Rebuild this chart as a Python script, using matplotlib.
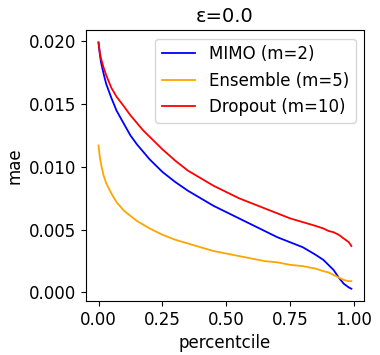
import matplotlib
matplotlib.use("Agg")
import matplotlib.pyplot as plt

percentile = [0.0, 0.005, 0.01, 0.02, 0.03, 0.05, 0.07, 0.10, 0.125, 0.15, 0.175, 0.20,
              0.25, 0.30, 0.35, 0.40, 0.45, 0.50, 0.55, 0.60, 0.65, 0.70, 0.75, 0.80,
              0.85, 0.88, 0.90, 0.92, 0.94, 0.96, 0.98, 0.99]
mimo = [0.0199, 0.0190, 0.0183, 0.0174, 0.0166, 0.0155, 0.0145, 0.0134, 0.0125, 0.0118,
        0.0112, 0.0106, 0.0096, 0.0088, 0.0081, 0.0075, 0.0069, 0.0064, 0.0059, 0.0054,
        0.0049, 0.0044, 0.0040, 0.0036, 0.0030, 0.0026, 0.0022, 0.0018, 0.0012, 0.0007,
        0.0004, 0.0003]
ensemble = [0.0117, 0.0108, 0.0102, 0.0093, 0.0087, 0.0079, 0.0072, 0.0065, 0.0061, 0.0057,
            0.0054, 0.0051, 0.0046, 0.0042, 0.0039, 0.0036, 0.0033, 0.0031, 0.0029, 0.0027,
            0.0025, 0.0024, 0.0022, 0.0021, 0.0019, 0.0017, 0.0016, 0.0014, 0.0012, 0.0010,
            0.0009, 0.0009]
dropout = [0.0199, 0.0191, 0.0186, 0.0179, 0.0173, 0.0163, 0.0156, 0.0148, 0.0141, 0.0135,
           0.0129, 0.0124, 0.0114, 0.0105, 0.0097, 0.0091, 0.0085, 0.0080, 0.0075, 0.0071,
           0.0067, 0.0063, 0.0059, 0.0056, 0.0053, 0.0051, 0.0049, 0.0048, 0.0046, 0.0043,
           0.0040, 0.0037]
labels = ["MIMO (m=2)", "Ensemble (m=5)", "Dropout (m=10)"]
colors = ["blue", "orange", "red"]

plt.rcParams['font.size'] = 12
fig = plt.figure(figsize=(3.8, 3.55), dpi=100)
ax = fig.add_axes([0.226, 0.152, 0.732, 0.763])
for ys, lab, c in zip([mimo, ensemble, dropout], labels, colors):
    ax.plot(percentile, ys, color=c, label=lab, lw=1.3)
ax.set_title("ε=0.0", fontsize=14)
ax.set_xlabel("percentcile")
ax.set_ylabel("mae")
ax.set_xticks([0.0, 0.25, 0.5, 0.75, 1.0])
ax.set_yticks([0.0, 0.005, 0.010, 0.015, 0.020])
ax.legend(loc="upper right")
fig.savefig("out.png", dpi=100)
